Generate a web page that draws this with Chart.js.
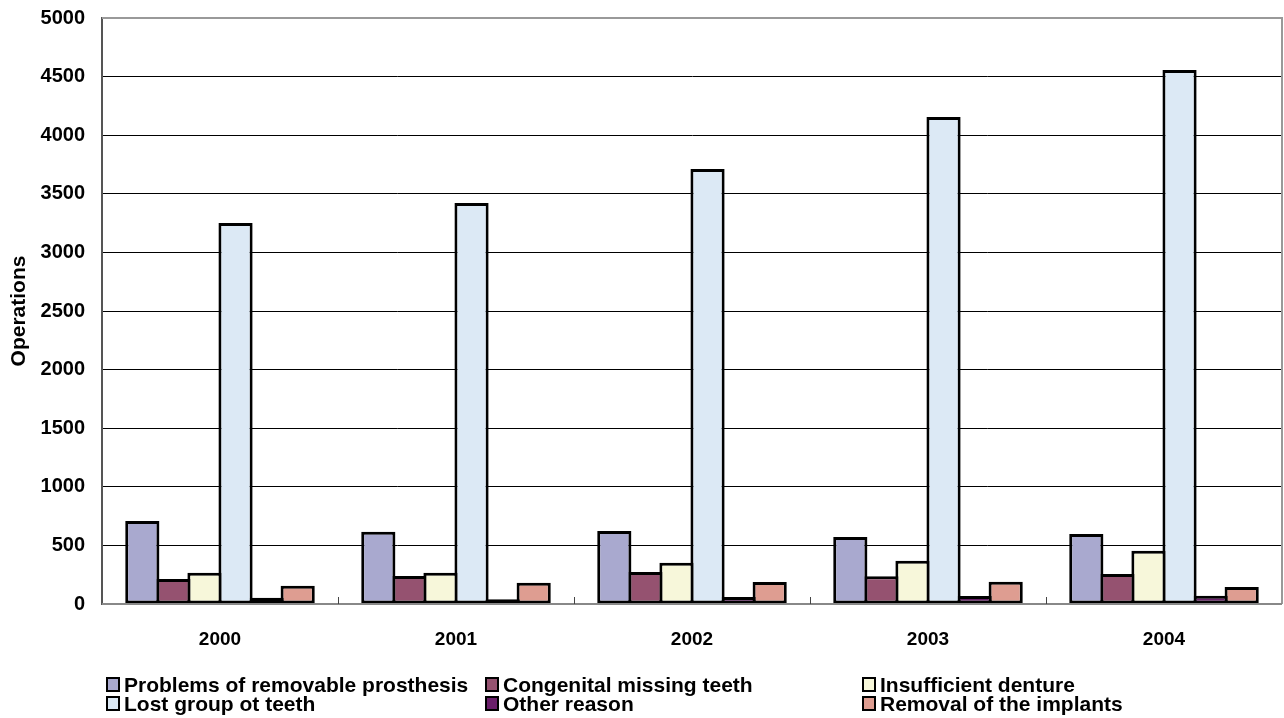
<!DOCTYPE html>
<html>
<head>
<meta charset="utf-8">
<script src="https://cdn.jsdelivr.net/npm/chart.js@4/dist/chart.umd.min.js"></script>
<style>
  html,body{margin:0;padding:0;background:#fff;overflow:hidden;}
  #wrap{position:relative;width:1284px;height:718px;overflow:hidden;}
  canvas{position:absolute;left:0;top:-11px;}
  #legend{position:absolute;left:106px;top:675px;display:grid;grid-template-columns:379px 377px 380px;
    font-family:"Liberation Sans",Arial,sans-serif;font-weight:bold;font-size:21px;line-height:19px;color:#000;}
  .item{display:flex;align-items:center;white-space:nowrap;height:19px;}
  .box{width:10px;height:11px;border:2px solid #000;margin-right:4px;flex:none;}
</style>
</head>
<body>
<div id="wrap">
<canvas id="c" width="1284" height="729"></canvas>
<div id="legend"></div>
</div>
<script>
const years = ['2000','2001','2002','2003','2004'];
const seriesNames = ['Problems of removable prosthesis','Congenital missing teeth','Insufficient denture','Lost group ot teeth','Other reason','Removal of the implants'];
const prosthesis   = [708, 617, 623, 572, 597];
const congenital   = [213, 239, 273, 236, 256];
const insufficient = [267, 267, 352, 369, 455];
const lostGroup    = [3251, 3421, 3712, 4155, 4556];
const otherReason  = [54, 40, 60, 68, 71];
const removal      = [156, 182, 188, 190, 145];
const yTicks = [0,500,1000,1500,2000,2500,3000,3500,4000,4500,5000];

const colors = ['#A9A9CF','#955270','#F7F7DA','#DCE9F5','#6B1F6B','#DE9D91'];
const values = [prosthesis, congenital, insufficient, lostGroup, otherReason, removal];

const datasets = values.map((v,i)=>({
  label: seriesNames[i], data: v, backgroundColor: colors[i],
  borderColor:'#000', borderWidth:3, borderSkipped:false,
  barPercentage:1.1, categoryPercentage:0.79
}));

const font = {family:'"Liberation Sans", Arial, sans-serif', weight:'bold', size:20};

const extras = {
  id:'extras',
  afterDraw(chart){
    const {ctx, chartArea:a, scales:{x}} = chart;
    ctx.save();
    ctx.strokeStyle='#999'; ctx.lineWidth=2;
    ctx.beginPath(); ctx.moveTo(a.left, a.top); ctx.lineTo(a.right, a.top); ctx.lineTo(a.right, a.bottom); ctx.stroke();
    ctx.strokeStyle='#888';
    ctx.beginPath(); ctx.moveTo(a.left, a.bottom); ctx.lineTo(a.right, a.bottom); ctx.stroke();
    ctx.strokeStyle='#444'; ctx.lineWidth=1;
    for(let i=1;i<years.length;i++){
      const px = Math.round((x.getPixelForTick(i-1)+x.getPixelForTick(i))/2)+0.5;
      ctx.beginPath(); ctx.moveTo(px, a.bottom); ctx.lineTo(px, a.bottom-7); ctx.stroke();
    }
    ctx.restore();
  }
};

new Chart(document.getElementById('c'), {
  type:'bar',
  data:{labels: years, datasets},
  options:{
    responsive:false, animation:false,
    layout:{padding:{left:7, top:8, right:2, bottom:0}},
    plugins:{legend:{display:false}, tooltip:{enabled:false}},
    scales:{
      x:{
        grid:{display:false, drawTicks:false},
        border:{display:false},
        ticks:{font:{...font, size:19}, color:'#000', padding:24},
        afterFit(s){ s.height = 114; }
      },
      y:{
        min:0, max:5000,
        afterBuildTicks(s){ s.ticks = yTicks.map(v=>({value:v})); },
        grid:{color:'#000', lineWidth:1, drawTicks:false},
        border:{display:true, color:'#555', width:2},
        ticks:{font:{...font, size:20}, color:'#000', padding:17, callback:(v)=>String(v)},
        title:{display:true, text:'Operations', font:{...font, size:21}, color:'#000', padding:{top:0,bottom:0}},
        afterFit(s){ s.width = 95; }
      }
    }
  },
  plugins:[extras]
});

const leg = document.getElementById('legend');
seriesNames.forEach((n,i)=>{
  const d = document.createElement('div'); d.className='item';
  const b = document.createElement('span'); b.className='box'; b.style.background=colors[i];
  const t = document.createElement('span'); t.textContent=n;
  d.appendChild(b); d.appendChild(t); leg.appendChild(d);
});
</script>
</body>
</html>
